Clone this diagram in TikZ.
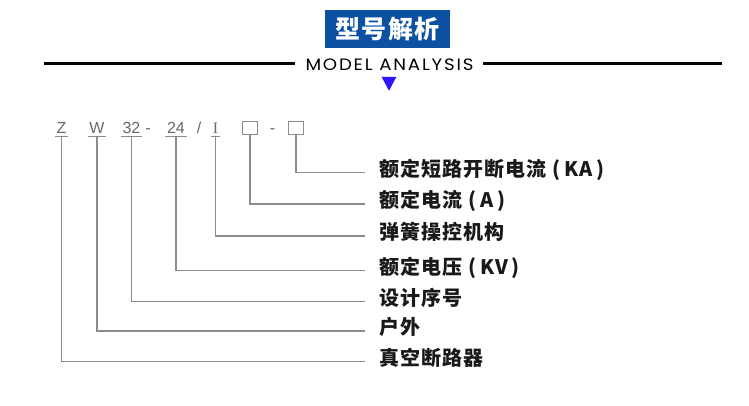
\documentclass[tikz,border=0pt]{standalone}
\usepackage{fontspec}
\setmainfont{Liberation Sans}
\newfontfamily\cjk{Noto Sans CJK SC}[LetterSpace=5]
\newfontfamily\poppins{Poppins}[LetterSpace=10]
\newfontfamily\serifI{Liberation Serif}
\definecolor{hdrblue}{RGB}{12,80,162}
\definecolor{triblue}{RGB}{45,20,255}
\definecolor{linegray}{RGB}{140,140,140}
\definecolor{codegray}{RGB}{105,105,105}
\definecolor{labtext}{RGB}{25,25,25}
\newcommand\lpar{\hspace{0.3em}(\hspace{0.22em}}
\newcommand\rpar{\hspace{0.18em})}
\begin{document}
\begin{tikzpicture}[x=1pt,y=-1pt,
  lab/.style={anchor=west, inner xsep=14pt, inner ysep=0pt, text=labtext,
    font=\cjk\bfseries\fontsize{20}{20}\selectfont, text height=0.88em, text depth=0.12em},
  code/.style={anchor=base, inner xsep=1.5pt, inner ysep=0pt, text depth=2pt,
    text=codegray, font=\fontsize{16}{16}\selectfont},
  cbox/.style={draw=linegray, line width=1.2pt, inner sep=0pt, minimum width=15pt, minimum height=13pt},
  conn/.style={draw=linegray, line width=1.3pt},
  uline/.style={draw=linegray, line width=1.2pt},
  rule/.style={draw=black, line width=3pt}]
\useasboundingbox (0,0) rectangle (749,406);
\fill[white] (0,0) rectangle (749,406);
% header
\node[fill=hdrblue, minimum width=125pt, minimum height=37.7pt, inner sep=0pt, text=white,
  font=\cjk\bfseries\fontsize{25}{25}\selectfont] (title) at (387.5,28.8) {型号解析};
\node[font=\poppins\fontsize{16.5}{16.5}\selectfont, inner sep=0pt] (sub) at (389.5,65) {\scalebox{1.1}[1]{MODEL ANALYSIS}};
\coordinate (la) at (44,63.5);
\coordinate (lb) at (295,63.5);
\coordinate (ra) at (483,63.5);
\coordinate (rb) at (722,63.5);
\draw[rule] (la) -- (lb);
\draw[rule] (ra) -- (rb);
\fill[triblue] (381.7,77) -- (396.3,77) -- (389,90.7) -- cycle;
% model code
\node[code] (z) at (61.5,134) {Z};
\node[code] (w) at (97,134) {W};
\node[code] (n32) at (131.5,134) {32};
\node[code] (d1) at (148,134) {-};
\node[code] (n24) at (176,134) {24};
\node[code] (sl) at (199,134) {/};
\node[code, font=\serifI\fontsize{16}{16}\selectfont] (ti) at (215.5,134) {I};
\node[cbox] (b1) at (250,128.3) {};
\node[code] (d2) at (272.5,134) {-};
\node[cbox] (b2) at (296,128.3) {};
\foreach \n in {z,w,n32,n24,ti}{\draw[uline] (\n.south west) -- (\n.south east);}
% labels
\node[lab] (l1) at (365,172.5) {额定短路开断电流\lpar KA\rpar};
\node[lab] (l2) at (365,204) {额定电流\lpar A\rpar};
\node[lab] (l3) at (365,236) {弹簧操控机构};
\node[lab] (l4) at (365,270.5) {额定电压\lpar KV\rpar};
\node[lab] (l5) at (365,301.5) {设计序号};
\node[lab] (l6) at (365,331) {户外};
\node[lab] (l7) at (365,361.5) {真空断路器};
% connectors
\draw[conn] (b2.south) |- (l1.west);
\draw[conn] (b1.south) |- (l2.west);
\draw[conn] (ti.south) |- (l3.west);
\draw[conn] (n24.south) |- (l4.west);
\draw[conn] (n32.south) |- (l5.west);
\draw[conn] (w.south) |- (l6.west);
\draw[conn] (z.south) |- (l7.west);
\end{tikzpicture}
\end{document}
